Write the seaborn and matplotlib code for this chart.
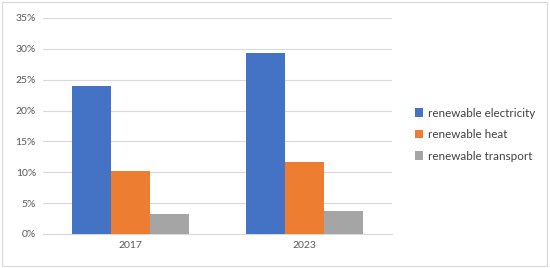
import pandas as pd
import matplotlib
matplotlib.use("Agg")
import matplotlib.pyplot as plt
import seaborn as sns
from matplotlib.ticker import PercentFormatter
from matplotlib.patches import Rectangle

# data (percent)
years = ["2017", "2023"]
series = ["renewable electricity", "renewable heat", "renewable transport"]
electricity = [23.9, 29.4]
heat = [10.2, 11.7]
transport = [3.3, 3.7]
colors = ["#4472C4", "#ED7D31", "#A5A5A5"]

df = pd.DataFrame({
    "year": years * 3,
    "series": [s for s in series for _ in years],
    "value": electricity + heat + transport,
})

sns.set_style("white")
plt.rcParams["font.family"] = ["Lato", "DejaVu Sans"]

fig = plt.figure(figsize=(5.5, 2.68), dpi=100)
ax = fig.add_axes([0.078, 0.127, 0.635, 0.806])

sns.barplot(data=df, x="year", y="value", hue="series", palette=colors,
            width=0.67, saturation=1, linewidth=0, ax=ax, zorder=3)

ax.set_ylim(0, 35)
ax.set_xlim(-0.5, 1.5)
ax.set_yticks(range(0, 36, 5))
ax.yaxis.set_major_formatter(PercentFormatter(decimals=0))
ax.grid(axis="y", color="#D9D9D9", linewidth=0.8, zorder=0)
ax.set_xlabel("")
ax.set_ylabel("")
for s in ["top", "right", "left"]:
    ax.spines[s].set_visible(False)
ax.spines["bottom"].set_color("#D9D9D9")
ax.tick_params(axis="both", length=0, labelsize=7.5, labelcolor="#595959", pad=5)

leg = ax.legend(loc="center left", bbox_to_anchor=(1.035, 0.46), frameon=False,
                fontsize=8.4, handlelength=0.7, handleheight=0.7,
                handletextpad=0.4, labelspacing=0.9)
for t in leg.get_texts():
    t.set_color("#404040")

# outer chart border
fig.patches.append(Rectangle((0.004, 0.008), 0.99, 0.984, transform=fig.transFigure,
                             fill=False, edgecolor="#D9D9D9", linewidth=0.8))

fig.savefig("out.png", dpi=100)
